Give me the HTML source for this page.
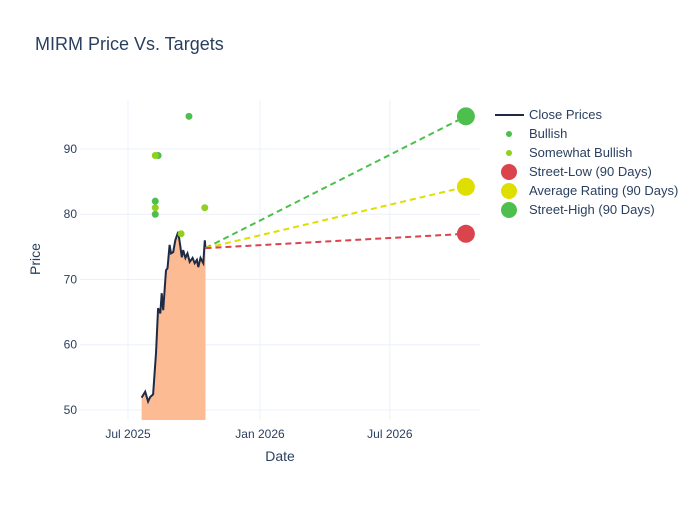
<!DOCTYPE html>
<html><head><meta charset="utf-8"><style>
body{margin:0;background:#fff;font-family:"Liberation Sans","DejaVu Sans",sans-serif}
svg text{font-family:"Liberation Sans","DejaVu Sans",sans-serif}
</style></head><body>
<svg id="chart" width="700" height="500">
<rect width="700" height="500" fill="#fff"/>
<text x="35" y="50" font-size="18" fill="#2a3f5f">MIRM Price Vs. Targets</text>
<g id="grid"></g>
<g id="marks"></g>
<g id="legend"></g>
<text x="280" y="461" font-size="14" fill="#2a3f5f" text-anchor="middle">Date</text>
<text x="40" y="259" font-size="14" fill="#2a3f5f" text-anchor="middle" transform="rotate(-90 40 259)">Price</text>
</svg>
<script>
const closeDates=["2025-07-20","2025-07-25","2025-07-29","2025-08-01","2025-08-05","2025-08-09","2025-08-12","2025-08-15","2025-08-17","2025-08-19","2025-08-23","2025-08-25","2025-08-28","2025-08-30","2025-09-02","2025-09-05","2025-09-09","2025-09-12","2025-09-14","2025-09-16","2025-09-19","2025-09-22","2025-09-25","2025-09-29","2025-10-02","2025-10-05","2025-10-07","2025-10-10","2025-10-13","2025-10-14","2025-10-16","2025-10-17"];
const closePrices=[51.9,52.8,51.3,52,52.4,58.7,65.6,64.8,67.9,65.3,71.4,71.7,75.3,74,74.2,76,77.3,75,73.4,74.5,73.3,74,72.7,73.3,72.5,73,71.9,73.3,72.7,72.5,76,74.8];
const bullishDates=["2025-08-08","2025-08-08","2025-08-12","2025-09-24"];
const bullishValues=[82,80,89,95];
const somewhatDates=["2025-08-08","2025-08-08","2025-09-13","2025-10-16"];
const somewhatValues=[89,81,77,81];
const targetStartDate="2025-10-17";
const targetEndDate="2026-10-15";
const streetLow=77, averageRating=84.2, streetHigh=95;
const yTicks=[50,60,70,80,90];
const xTickDates=["2025-07-01","2026-01-01","2026-07-01"];
const xTickLabels=["Jul 2025","Jan 2026","Jul 2026"];

const NS="http://www.w3.org/2000/svg";
const X0=80,X1=480,Y0=100,Y1=420;
const t0=Date.parse("2025-07-01"),pxPerDay=132/184;
function xs(d){return 128+(Date.parse(d)-t0)/86400000*pxPerDay;}
const vMin=48.47,vMax=97.5;
function ys(v){return Y1-(v-vMin)/(vMax-vMin)*(Y1-Y0);}
function mk(tag,attrs,parent){const e=document.createElementNS(NS,tag);for(const k in attrs)e.setAttribute(k,attrs[k]);parent.appendChild(e);return e;}
const grid=document.getElementById('grid'),marks=document.getElementById('marks'),legend=document.getElementById('legend');
yTicks.forEach(v=>{
 const l=mk('line',{x1:X0,x2:X1,y1:ys(v),y2:ys(v),stroke:'#ebf0f8'},grid);
 
 
 const t=mk('text',{x:X0-3,y:ys(v)+4,'font-size':12,fill:'#2a3f5f','text-anchor':'end'},grid);
 t.textContent=v;
 
 
});
xTickDates.forEach((d,i)=>{
 const l=mk('line',{x1:xs(d),x2:xs(d),y1:Y0,y2:Y1,stroke:'#ebf0f8'},grid);
 
 
 const t=mk('text',{x:xs(d),y:Y1+18,'font-size':12,fill:'#2a3f5f','text-anchor':'middle'},grid);
 t.textContent=xTickLabels[i];
 
 
});
let pts=closeDates.map((d,i)=>xs(d).toFixed(1)+','+ys(closePrices[i]).toFixed(1));
const area=mk('polygon',{points:xs(closeDates[0])+','+Y1+' '+pts.join(' ')+' '+xs(closeDates[closeDates.length-1])+','+Y1,fill:'#fdbb94'},marks);


const line=mk('polyline',{points:pts.join(' '),fill:'none',stroke:'#1f2a44','stroke-width':2},marks);


const lastClose=closePrices[closePrices.length-1];
[[streetHigh,'#4dbf4d','street-high'],[averageRating,'#dede00','average-rating'],[streetLow,'#d9444d','street-low']].forEach(([v,c,n])=>{
 const l=mk('line',{x1:xs(targetStartDate),y1:ys(lastClose),x2:xs(targetEndDate),y2:ys(v),stroke:c,'stroke-width':2,'stroke-dasharray':'6,4'},marks);
 
 
});
[[streetLow,'#d9444d','street-low'],[averageRating,'#dede00','average-rating'],[streetHigh,'#4dbf4d','street-high']].forEach(([v,c,n])=>{
 const m=mk('circle',{cx:xs(targetEndDate),cy:ys(v),r:9,fill:c},marks);
 
 
});
bullishDates.forEach((d,i)=>{
 const m=mk('circle',{cx:xs(d),cy:ys(bullishValues[i]),r:3.5,fill:'#4dbf4d'},marks);
 
 
});
somewhatDates.forEach((d,i)=>{
 const m=mk('circle',{cx:xs(d),cy:ys(somewhatValues[i]),r:3.5,fill:'#8fd11e'},marks);
 
 
});
const items=[['line','#1f2a44','Close Prices'],['s','#4dbf4d','Bullish'],['s','#8fd11e','Somewhat Bullish'],['b','#d9444d','Street-Low (90 Days)'],['b','#dede00','Average Rating (90 Days)'],['b','#4dbf4d','Street-High (90 Days)']];
items.forEach((it,i)=>{
 const y=115+i*19;
 const g=mk('g',{},legend);
 
 
 if(it[0]==='line')mk('line',{x1:495,x2:524,y1:y,y2:y,stroke:it[1],'stroke-width':2},g);
 else mk('circle',{cx:509,cy:y,r:it[0]==='s'?3:8,fill:it[1]},g);
 const t=mk('text',{x:529,y:y+4,'font-size':13,fill:'#2a3f5f'},g);
 t.textContent=it[2];
});
</script>
</body></html>
